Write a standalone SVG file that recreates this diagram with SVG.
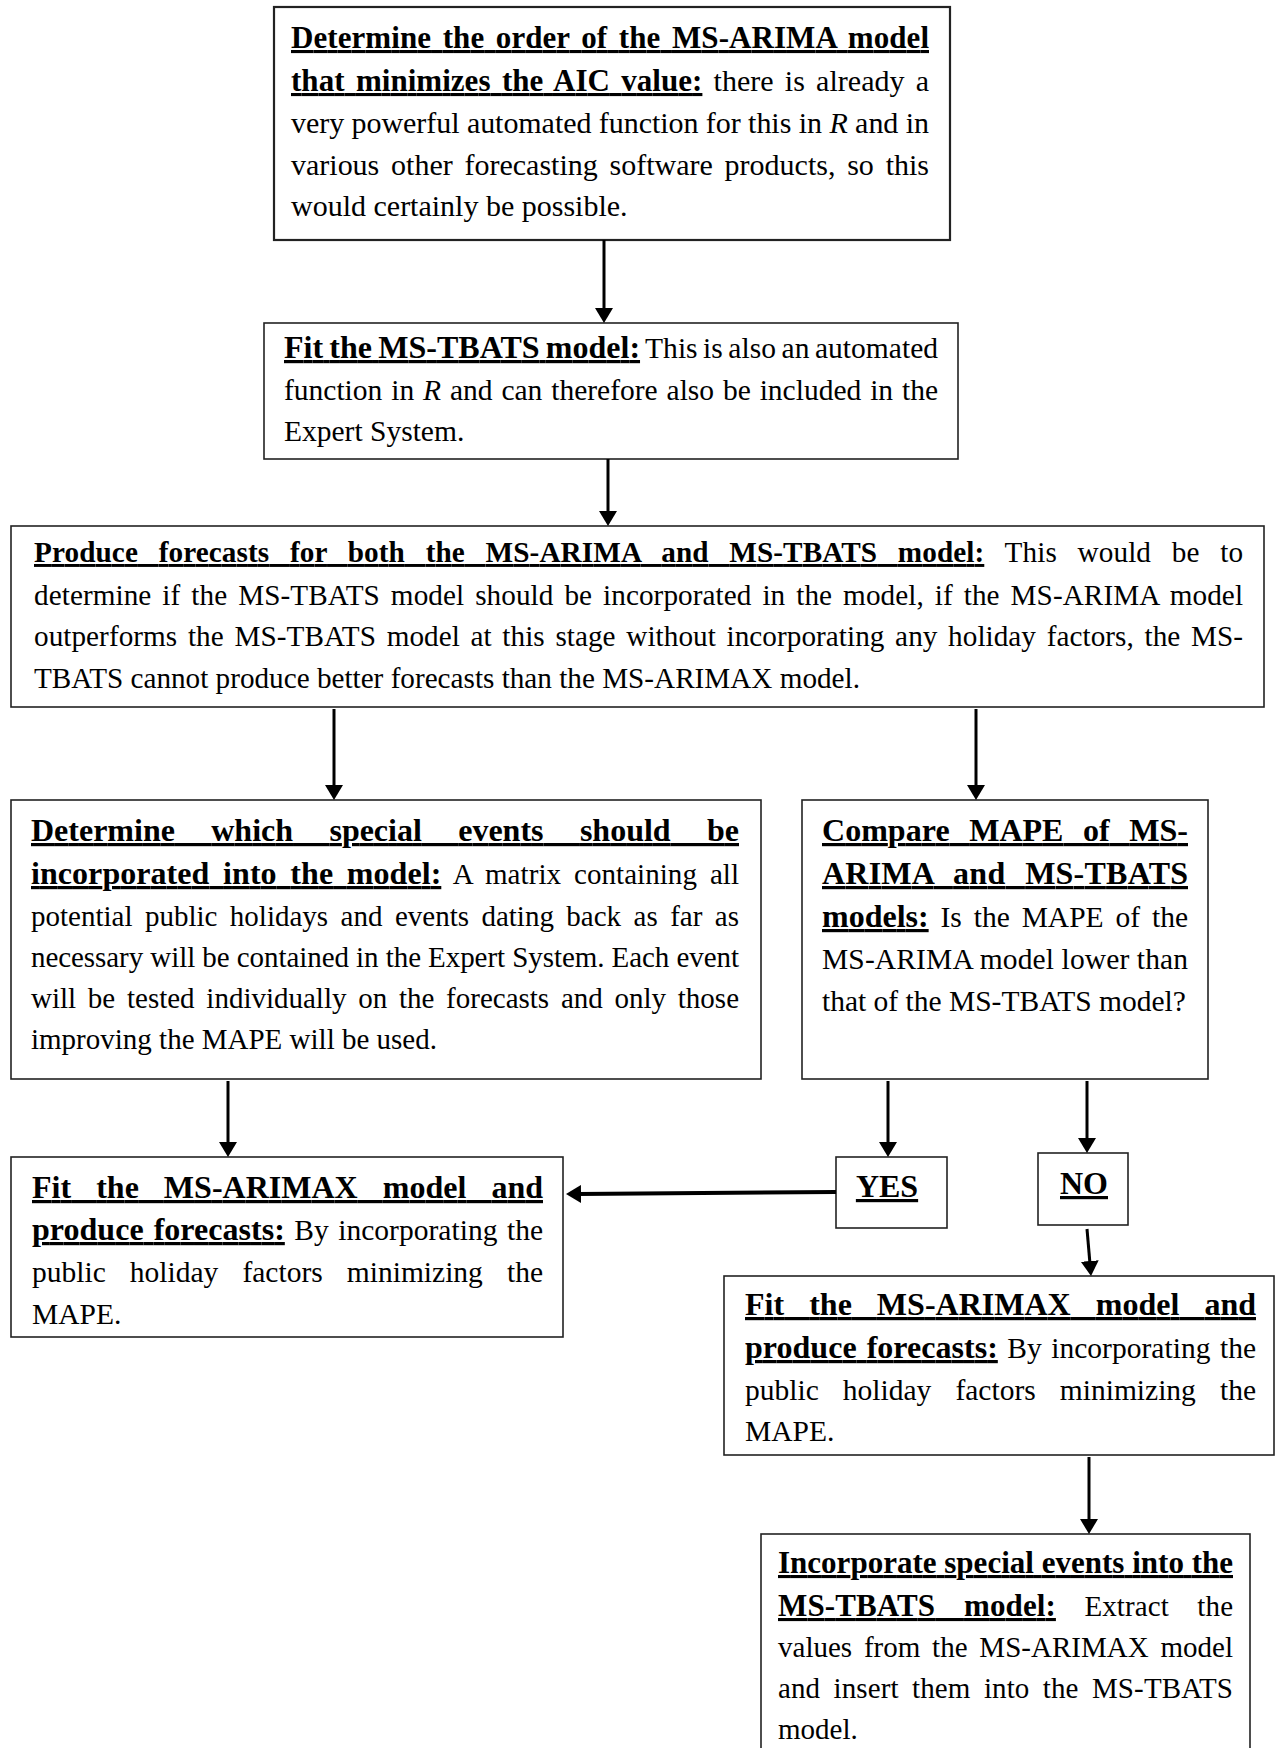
<svg xmlns="http://www.w3.org/2000/svg" width="1275" height="1748" viewBox="0 0 1275 1748">
<style>
.t{font-family:"Liberation Serif","Times New Roman",serif;fill:#000}
.b{font-weight:bold;text-decoration:underline;text-decoration-thickness:3px;text-underline-offset:3px}
.i{font-style:italic}
.box{fill:#fff;stroke:#222;stroke-width:1.6}
.conn line{stroke:#000;stroke-width:3}
</style>
<defs>
<marker id="ah" markerUnits="userSpaceOnUse" markerWidth="16" markerHeight="18" refX="3" refY="9" orient="auto">
<path d="M0,0 L15,9 L0,18 z" fill="#000"/>
</marker>
</defs>
<rect width="1275" height="1748" fill="#fff"/>

<g id="n1">
<rect class="box" x="274" y="7" width="676" height="233" style="stroke-width:2.2"/>
<text class="t" x="291" y="48" font-size="30" textLength="638" lengthAdjust="spacing" word-spacing="3.8"><tspan class="b" font-size="31">Determine the order of the MS-ARIMA model</tspan></text>
<text class="t" x="291" y="91" font-size="30" textLength="638" lengthAdjust="spacing" word-spacing="3.6"><tspan class="b" font-size="31">that minimizes the AIC value:</tspan> there is already a</text>
<text class="t" x="291" y="133" font-size="30" textLength="638" lengthAdjust="spacing">very powerful automated function for this in <tspan class="i">R</tspan> and in</text>
<text class="t" x="291" y="175" font-size="30" textLength="638" lengthAdjust="spacing" word-spacing="4.3">various other forecasting software products, so this</text>
<text class="t" x="291" y="216" font-size="30">would certainly be possible.</text>
</g>

<g id="n2">
<rect class="box" x="264" y="323" width="694" height="136"/>
<text class="t" x="284" y="358" font-size="29.5" textLength="654" lengthAdjust="spacing" word-spacing="-1.9"><tspan class="b" font-size="32">Fit the MS-TBATS model:</tspan> This is also an automated</text>
<text class="t" x="284" y="400" font-size="29.5" textLength="654" lengthAdjust="spacing" word-spacing="1.5">function in <tspan class="i">R</tspan> and can therefore also be included in the</text>
<text class="t" x="284" y="441" font-size="29.5">Expert System.</text>
</g>

<g id="n3">
<rect class="box" x="11" y="526" width="1253" height="181"/>
<text class="t" x="34" y="562" font-size="29.2" textLength="1209" lengthAdjust="spacing" word-spacing="13.3"><tspan class="b">Produce forecasts for both the MS-ARIMA and MS-TBATS model:</tspan> This would be to</text>
<text class="t" x="34" y="605" font-size="29.2" textLength="1209" lengthAdjust="spacing" word-spacing="3.6">determine if the MS-TBATS model should be incorporated in the model, if the MS-ARIMA model</text>
<text class="t" x="34" y="646" font-size="29.2" textLength="1209" lengthAdjust="spacing" word-spacing="3.3">outperforms the MS-TBATS model at this stage without incorporating any holiday factors, the MS-</text>
<text class="t" x="34" y="688" font-size="29.2">TBATS cannot produce better forecasts than the MS-ARIMAX model.</text>
</g>

<g id="n4">
<rect class="box" x="11" y="800" width="750" height="279"/>
<text class="t" x="31" y="841" font-size="29" textLength="708" lengthAdjust="spacing" word-spacing="28.4"><tspan class="b" font-size="32">Determine which special events should be</tspan></text>
<text class="t" x="31" y="884" font-size="29" textLength="708" lengthAdjust="spacing" word-spacing="5.6"><tspan class="b" font-size="32">incorporated into the model:</tspan> A matrix containing all</text>
<text class="t" x="31" y="926" font-size="29" textLength="708" lengthAdjust="spacing" word-spacing="5.2">potential public holidays and events dating back as far as</text>
<text class="t" x="31" y="967" font-size="29" textLength="708" lengthAdjust="spacing">necessary will be contained in the Expert System. Each event</text>
<text class="t" x="31" y="1008" font-size="29" textLength="708" lengthAdjust="spacing" word-spacing="4.5">will be tested individually on the forecasts and only those</text>
<text class="t" x="31" y="1049" font-size="29">improving the MAPE will be used.</text>
</g>

<g id="n5">
<rect class="box" x="802" y="800" width="406" height="279"/>
<text class="t" x="822" y="841" font-size="29.5" textLength="366" lengthAdjust="spacing" word-spacing="11.5"><tspan class="b" font-size="32">Compare MAPE of MS-</tspan></text>
<text class="t" x="822" y="884" font-size="29.5" textLength="366" lengthAdjust="spacing" word-spacing="11.5"><tspan class="b" font-size="32">ARIMA and MS-TBATS</tspan></text>
<text class="t" x="822" y="927" font-size="29.5" textLength="366" lengthAdjust="spacing" word-spacing="4.5"><tspan class="b" font-size="32">models:</tspan> Is the MAPE of the</text>
<text class="t" x="822" y="969" font-size="29.5" textLength="366" lengthAdjust="spacing">MS-ARIMA model lower than</text>
<text class="t" x="822" y="1011" font-size="29.5">that of the MS-TBATS model?</text>
</g>

<g id="n6">
<rect class="box" x="11" y="1157" width="552" height="180"/>
<text class="t" x="32" y="1198" font-size="29.5" textLength="511" lengthAdjust="spacing" word-spacing="17"><tspan class="b" font-size="32">Fit the MS-ARIMAX model and</tspan></text>
<text class="t" x="32" y="1240" font-size="29.5" textLength="511" lengthAdjust="spacing" word-spacing="2"><tspan class="b" font-size="32">produce forecasts:</tspan> By incorporating the</text>
<text class="t" x="32" y="1282" font-size="29.5" textLength="511" lengthAdjust="spacing" word-spacing="16.7">public holiday factors minimizing the</text>
<text class="t" x="32" y="1324" font-size="29.5">MAPE.</text>
</g>

<g id="yes">
<rect class="box" x="836" y="1157" width="111" height="71"/>
<text class="t" x="887" y="1197" font-size="32" text-anchor="middle"><tspan class="b">YES</tspan></text>
</g>

<g id="no">
<rect class="box" x="1038" y="1153" width="90" height="72"/>
<text class="t" x="1084" y="1194" font-size="32" text-anchor="middle"><tspan class="b">NO</tspan></text>
</g>

<g id="n7">
<rect class="box" x="724" y="1276" width="550" height="179"/>
<text class="t" x="745" y="1315" font-size="29.5" textLength="511" lengthAdjust="spacing" word-spacing="17"><tspan class="b" font-size="32">Fit the MS-ARIMAX model and</tspan></text>
<text class="t" x="745" y="1358" font-size="29.5" textLength="511" lengthAdjust="spacing" word-spacing="2"><tspan class="b" font-size="32">produce forecasts:</tspan> By incorporating the</text>
<text class="t" x="745" y="1400" font-size="29.5" textLength="511" lengthAdjust="spacing" word-spacing="16.7">public holiday factors minimizing the</text>
<text class="t" x="745" y="1441" font-size="29.5">MAPE.</text>
</g>

<g id="n8">
<rect class="box" x="761" y="1534" width="489" height="240"/>
<text class="t" x="778" y="1573" font-size="29" textLength="455" lengthAdjust="spacing"><tspan class="b" font-size="31">Incorporate special events into the</tspan></text>
<text class="t" x="778" y="1616" font-size="29" textLength="455" lengthAdjust="spacing" word-spacing="21"><tspan class="b" font-size="31">MS-TBATS model:</tspan> Extract the</text>
<text class="t" x="778" y="1657" font-size="29" textLength="455" lengthAdjust="spacing" word-spacing="4.5">values from the MS-ARIMAX model</text>
<text class="t" x="778" y="1698" font-size="29" textLength="455" lengthAdjust="spacing" word-spacing="6">and insert them into the MS-TBATS</text>
<text class="t" x="778" y="1739" font-size="29">model.</text>
</g>

<g id="connectors" class="conn">
<line x1="604" y1="240" x2="604" y2="311" marker-end="url(#ah)"/>
<line x1="608" y1="459" x2="608" y2="514" marker-end="url(#ah)"/>
<line x1="334" y1="709" x2="334" y2="788" marker-end="url(#ah)"/>
<line x1="976" y1="709" x2="976" y2="788" marker-end="url(#ah)"/>
<line x1="228" y1="1081" x2="228" y2="1145" marker-end="url(#ah)"/>
<line x1="888" y1="1081" x2="888" y2="1145" marker-end="url(#ah)"/>
<line x1="1087" y1="1081" x2="1087" y2="1141" marker-end="url(#ah)"/>
<line x1="836" y1="1192" x2="578" y2="1194" style="stroke-width:4" marker-end="url(#ah)"/>
<line x1="1087" y1="1229" x2="1090" y2="1264" marker-end="url(#ah)"/>
<line x1="1089" y1="1457" x2="1089" y2="1522" marker-end="url(#ah)"/>
</g>
</svg>
